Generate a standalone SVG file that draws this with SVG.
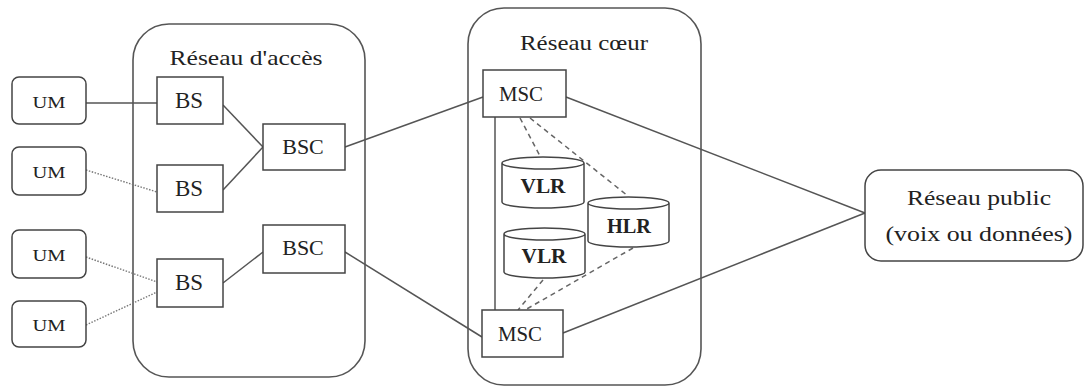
<svg xmlns="http://www.w3.org/2000/svg" width="1085" height="387" viewBox="0 0 1085 387">
<style>
.bg{fill:#ffffff}
.cont{fill:none;stroke:#555;stroke-width:1.6}
.box{fill:#fff;stroke:#444;stroke-width:1.5}
.db{fill:#fff;stroke:#444;stroke-width:1.5}
.t{font-family:"Liberation Serif","Times New Roman",serif;fill:#222;text-anchor:middle}
.b{font-weight:bold}
.solid{stroke:#555;stroke-width:1.5;fill:none}
.dot{stroke:#777;stroke-width:1.4;stroke-dasharray:1.5,1.5;fill:none}
.dash{stroke:#666;stroke-width:1.5;stroke-dasharray:5,4;fill:none}
</style>
<rect class="bg" x="0" y="0" width="1085" height="387"/>
<g id="access">
<rect class="cont" x="133" y="24" width="232" height="353" rx="36" ry="36"/>
<text class="t" x="246" y="65" font-size="21" textLength="153" lengthAdjust="spacingAndGlyphs">Réseau d'accès</text>
</g>
<g id="core">
<rect class="cont" x="468" y="8" width="233" height="377" rx="36" ry="36"/>
<text class="t" x="584" y="50" font-size="21" textLength="128" lengthAdjust="spacingAndGlyphs">Réseau cœur</text>
</g>
<g id="connectors">
<line class="solid" x1="86" y1="103" x2="157" y2="103"/>
<line class="dot" x1="86" y1="170" x2="157" y2="192"/>
<line class="dot" x1="86" y1="257" x2="157" y2="282"/>
<line class="dot" x1="86" y1="325" x2="157" y2="292"/>
<line class="solid" x1="223" y1="105" x2="263" y2="147"/>
<line class="solid" x1="223" y1="190" x2="263" y2="147"/>
<line class="solid" x1="223" y1="283" x2="263" y2="252"/>
<line class="solid" x1="345" y1="147" x2="483" y2="97"/>
<line class="solid" x1="345" y1="252" x2="482" y2="337"/>
<line class="solid" x1="566" y1="97" x2="865" y2="213"/>
<line class="solid" x1="563" y1="333" x2="865" y2="213"/>
<line class="solid" x1="495" y1="117" x2="495" y2="310"/>
<line class="dash" x1="520" y1="118" x2="540" y2="156"/>
<line class="dash" x1="530" y1="118" x2="628" y2="196"/>
<line class="dash" x1="543" y1="280" x2="518" y2="310"/>
<line class="dash" x1="633" y1="248" x2="525" y2="310"/>
</g>
<g id="um1"><rect class="box" x="12" y="77" width="74" height="47" rx="7"/><text class="t" x="49" y="108" font-size="17" textLength="33" lengthAdjust="spacingAndGlyphs">UM</text></g>
<g id="um2"><rect class="box" x="12" y="147" width="74" height="48" rx="7"/><text class="t" x="49" y="178" font-size="17" textLength="33" lengthAdjust="spacingAndGlyphs">UM</text></g>
<g id="um3"><rect class="box" x="12" y="230" width="74" height="48" rx="7"/><text class="t" x="49" y="261" font-size="17" textLength="33" lengthAdjust="spacingAndGlyphs">UM</text></g>
<g id="um4"><rect class="box" x="12" y="301" width="74" height="46" rx="7"/><text class="t" x="49" y="331" font-size="17" textLength="33" lengthAdjust="spacingAndGlyphs">UM</text></g>
<g id="bs1"><rect class="box" x="157" y="77" width="66" height="47"/><text class="t" x="189" y="108" font-size="23">BS</text></g>
<g id="bs2"><rect class="box" x="157" y="165" width="66" height="47"/><text class="t" x="189" y="196" font-size="23">BS</text></g>
<g id="bs3"><rect class="box" x="157" y="259" width="66" height="48"/><text class="t" x="189" y="290" font-size="23">BS</text></g>
<g id="bsc1"><rect class="box" x="263" y="124" width="82" height="46"/><text class="t" x="303" y="154" font-size="22">BSC</text></g>
<g id="bsc2"><rect class="box" x="263" y="225" width="82" height="48"/><text class="t" x="303" y="255" font-size="22">BSC</text></g>
<g id="msc1"><rect class="box" x="483" y="70" width="83" height="47"/><text class="t" x="521" y="101" font-size="20" textLength="44" lengthAdjust="spacingAndGlyphs">MSC</text></g>
<g id="msc2"><rect class="box" x="482" y="310" width="81" height="47"/><text class="t" x="520" y="341" font-size="20" textLength="44" lengthAdjust="spacingAndGlyphs">MSC</text></g>
<g id="vlr1">
<path class="db" d="M502,163 L502,202 A41,6 0 0 0 584,202 L584,163 A41,6 0 0 0 502,163 A41,6 0 0 0 584,163"/>
<text class="t b" x="543" y="193" font-size="20" textLength="45" lengthAdjust="spacingAndGlyphs">VLR</text>
</g>
<g id="vlr2">
<path class="db" d="M504,234 L504,272 A40.5,6 0 0 0 585,272 L585,234 A40.5,6 0 0 0 504,234 A40.5,6 0 0 0 585,234"/>
<text class="t b" x="544" y="263" font-size="20" textLength="45" lengthAdjust="spacingAndGlyphs">VLR</text>
</g>
<g id="hlr">
<path class="db" d="M588,203 L588,241 A40.5,6 0 0 0 669,241 L669,203 A40.5,6 0 0 0 588,203 A40.5,6 0 0 0 669,203"/>
<text class="t b" x="629" y="233" font-size="20" textLength="44" lengthAdjust="spacingAndGlyphs">HLR</text>
</g>
<g id="public">
<rect class="box" x="865" y="170" width="218" height="91" rx="16"/>
<text class="t" x="979" y="205" font-size="22" textLength="144" lengthAdjust="spacingAndGlyphs">Réseau public</text>
<text class="t" x="979" y="241" font-size="22" textLength="187" lengthAdjust="spacingAndGlyphs">(voix ou données)</text>
</g>
</svg>
